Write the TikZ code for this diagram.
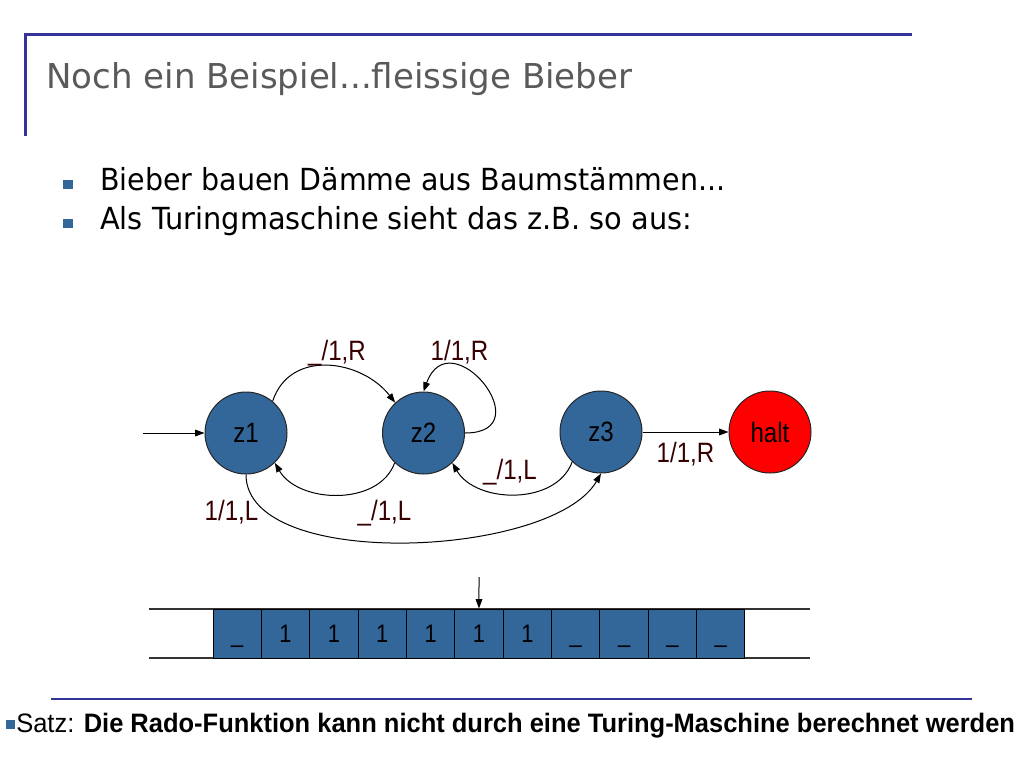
\documentclass[tikz,border=0pt]{standalone}
\usepackage{fontspec}
\setmainfont{Liberation Sans}
\newfontfamily\slidefont{DejaVu Sans}
\usepackage{graphicx}
\usetikzlibrary{arrows.meta, positioning, shapes.geometric}

\definecolor{framecol}{RGB}{51,51,153}
\definecolor{statecol}{RGB}{51,102,153}
\definecolor{labelcol}{RGB}{55,0,0}
\definecolor{titlecol}{RGB}{90,90,90}

\newcommand{\fittext}[2]{\resizebox{#1}{\height}{#2}}
\newcommand{\squash}[1]{\scalebox{0.86}[1]{#1}}

\begin{document}
\begin{tikzpicture}[x=0.75pt, y=-0.75pt,
    state/.style={circle, draw=black!85, line width=0.75pt, fill=statecol, minimum size=61.5pt, inner sep=0pt, font=\fontsize{21}{21}\selectfont},
    haltstate/.style={state, fill=red},
    trans/.style={-{Triangle[length=7pt,width=5pt]}, line width=0.75pt},
    edgelabel/.style={anchor=base, text=labelcol, inner sep=0pt, font=\fontsize{21}{21}\selectfont},
    cell/.style={draw=black, line width=0.75pt, fill=statecol, minimum width=36.27pt, minimum height=36.75pt, inner sep=0pt, text height=14.2pt, text depth=0pt, font=\fontsize{19}{19}\selectfont},
    slidetext/.style={anchor=base west, inner sep=0pt}]

\useasboundingbox (0,0) rectangle (1024,768);

% frame
\draw[framecol, line width=2.25pt] (912,34) -- (25,34) -- (25,136);
\draw[framecol, line width=1.5pt] (51,699) -- (972,699);

% title and bullets
\node[slidetext, text=titlecol] (title) at (46,88) {\fittext{439.5pt}{\slidefont\fontsize{25.7}{26}\selectfont Noch ein Beispiel...fleissige Bieber}};
\fill[statecol] (63,180) rectangle (73,189);
\node[slidetext] (item1) at (100,190) {\fittext{468.75pt}{\slidefont\fontsize{22.8}{24}\selectfont Bieber bauen Dämme aus Baumstämmen...}};
\fill[statecol] (63,219) rectangle (73,228);
\node[slidetext] (item2) at (100,229) {\fittext{444pt}{\slidefont\fontsize{22.8}{24}\selectfont Als Turingmaschine sieht das z.B. so aus:}};

% states
\node[state] (z1) at (246,433) {\squash{z1}};
\node[state] (z2) at (423.5,433) {\squash{z2}};
\node[state] (z3) at (601,432) {\squash{z3}};
\node[haltstate] (halt) at (770,432) {\squash{halt}};
\coordinate (start) at (143,433);

% transitions
\draw[trans] (start) -- (z1);
\draw[trans] (z1.50) to[out=72, in=128, looseness=1.15] (z2.133);
\draw[trans] (z2.east) to[out=0, in=70, looseness=3.4] (z2.north);
\draw[trans] (z2.226) to[out=250, in=300] (z1.314);
\draw[trans] (z3.226) to[out=250, in=300] (z2.314);
\draw[trans] (z1.south) to[out=-90, in=-120, looseness=0.7] (z3.south);
\draw[trans] (z3) -- (halt);

\node[edgelabel] (l12) at (337,360) {\squash{\_/1,R}};
\node[edgelabel] (l22) at (459.5,360) {\squash{1/1,R}};
\node[edgelabel] (l13) at (231.5,520) {\squash{1/1,L}};
\node[edgelabel] (l21) at (384.5,520) {\squash{\_/1,L}};
\node[edgelabel] (l32) at (510,479) {\squash{\_/1,L}};
\node[edgelabel] (l3h) at (685.5,462) {\squash{1/1,R}};

% tape
\draw[black!80, line width=1pt] (149,609) -- (810,609);
\draw[black!80, line width=1pt] (149,658) -- (810,658);
\foreach \s [count=\i from 0] in {\_,1,1,1,1,1,1,\_,\_,\_,\_}
    \node[cell] (cell\i) at ({237.18+48.36*\i},633.5) {\squash{\s}};
\coordinate (head) at (479,577);
\draw[trans] (head) -- (cell5.north);

% theorem
\fill[statecol] (6,720) rectangle (15,729);
\node[slidetext] (satz) at (16,732) {\fittext{749pt}{\fontsize{20}{22}\selectfont Satz: \textbf{Die Rado-Funktion kann nicht durch eine Turing-Maschine berechnet werden}}};
\end{tikzpicture}
\end{document}
